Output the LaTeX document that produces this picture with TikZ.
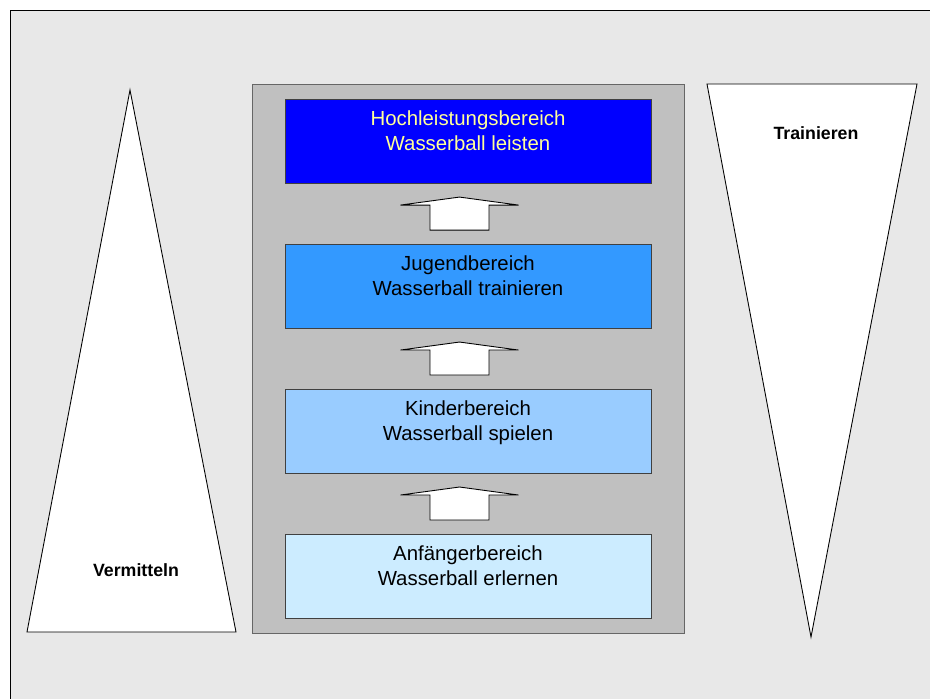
\documentclass[tikz,border=0pt]{standalone}
\usepackage{fontspec}
\setmainfont{Liberation Sans}
\usetikzlibrary{positioning,calc}
\definecolor{frameback}{HTML}{E8E8E8}
\definecolor{panelgray}{HTML}{C0C0C0}
\definecolor{hochblue}{HTML}{0000FF}
\definecolor{jugendblue}{HTML}{3399FF}
\definecolor{kinderblue}{HTML}{99CCFF}
\definecolor{anfblue}{HTML}{CCECFF}
\definecolor{paleyellow}{HTML}{FFFF99}

\begin{document}
\begin{tikzpicture}[x=0.02cm,y=-0.02cm,node distance=2.9cm,on grid,line width=0.5pt,
    stage/.style={draw=black!75,minimum width=7.32cm,minimum height=1.68cm,inner sep=0pt},
    stagetext/.style={anchor=north,yshift=-0.24cm,align=center,inner sep=0pt,
      font=\fontsize{11.6}{14.2}\selectfont},
    stepup/.pic={\draw[black,fill=white] (0,-16.5) -- (59,-8.5) -- (29.5,-8.5) -- (29.5,16.5)
      -- (-29.5,16.5) -- (-29.5,-8.5) -- (-59,-8.5) -- cycle;},
    side/.style={draw=black,fill=white},
    sidetext/.style={font=\bfseries\fontsize{10.1}{12}\selectfont}]
  \useasboundingbox (0,0) rectangle (930,699);
  \clip (0,0) rectangle (930,699);
  \fill[white] (0,0) rectangle (930,699);
  \draw[black,fill=frameback] (10,10) rectangle (945,715);
  % stufen
  \draw[draw=black!60,fill=panelgray] (252,84) rectangle (684,633);
  \node[stage,fill=anfblue] (anf) at (468,576) {};
  \node[stage,fill=kinderblue] [above=of anf] (kind) {};
  \node[stage,fill=jugendblue] [above=of kind] (jug) {};
  \node[stage,fill=hochblue] [above=of jug] (hoch) {};
  \node[stagetext] (anftext) at (anf.north) {Anfängerbereich\\Wasserball erlernen};
  \node[stagetext] (kindtext) at (kind.north) {Kinderbereich\\Wasserball spielen};
  \node[stagetext] (jugtext) at (jug.north) {Jugendbereich\\Wasserball trainieren};
  \node[stagetext,text=paleyellow] (hochtext) at (hoch.north) {Hochleistungsbereich\\Wasserball leisten};
  \foreach \lo/\hi in {anf/kind,kind/jug,jug/hoch}
    \pic[xshift=-0.17cm] at ($(\lo.north)!0.5!(\hi.south)$) {stepup};
  % keile
  \draw[side] (130,90) -- (236,632) -- (27,632) -- cycle;
  \draw[side] (707,84) -- (917,84) -- (811,637) -- cycle;
  \node[sidetext] (vermitteln) at (136,570) {Vermitteln};
  \node[sidetext] (trainieren) at (816,133) {Trainieren};
\end{tikzpicture}
\end{document}
